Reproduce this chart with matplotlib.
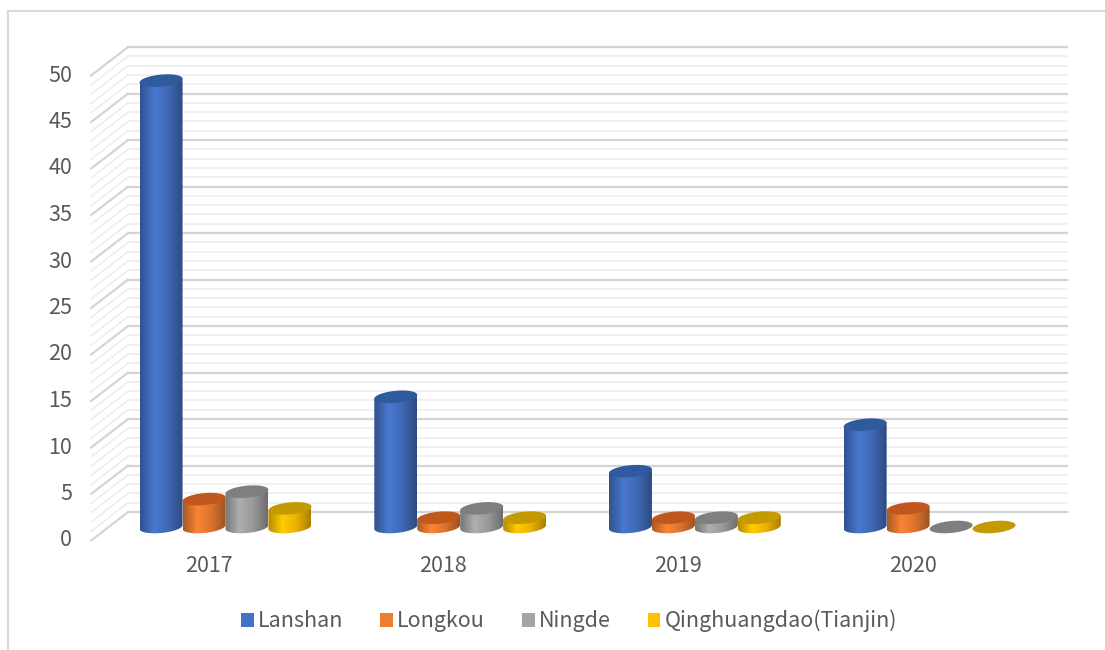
import numpy as np
import matplotlib
matplotlib.use('Agg')
import matplotlib.pyplot as plt
from matplotlib.patches import Polygon, Patch
from matplotlib.lines import Line2D
from matplotlib.colors import LinearSegmentedColormap, to_rgb

# data
years = ['2017', '2018', '2019', '2020']
series = ['Lanshan', 'Longkou', 'Ningde', 'Qinghuangdao(Tianjin)']
lanshan = [48, 14, 6, 11]
longkou = [3, 1, 1, 2]
ningde = [3.8, 2, 1, 0]
qinghuangdao = [2, 1, 1, 0]
values = [lanshan, longkou, ningde, qinghuangdao]
colors = ['#4472C4', '#ED7D31', '#A5A5A5', '#FFC000']
top_colors = ['#2F5A9E', '#C0581E', '#7F7F7F', '#C39A00']
y_ticks = list(range(0, 51, 5))

W, H = 1105, 650
PX_X, X0 = 234.7, 225.5    # px per category, px of first group
PX_Y, Y0 = 9.3, 527        # px per unit, px of zero line (bar plane)
TXT = '#595959'
plt.rcParams['font.family'] = ['Noto Sans CJK SC', 'DejaVu Sans']
plt.rcParams['font.weight'] = 'light'

fig = plt.figure(figsize=(W / 100, H / 100), dpi=100)
ax = fig.add_axes([0, 0, 1, 1])
ax.axis('off')

# depth offsets (data units) of back wall and front edge vs bar plane
dxb, dyb = 20 / PX_X, 15 / PX_Y
dxf, dyf = -17 / PX_X, -13.5 / PX_Y
wx0, wx1 = -0.5, 3.5

# back wall + left wall grid
for v in range(0, 51):
    major = v % 5 == 0
    c = '#D4D4D4' if major else '#ECECEC'
    lw = 1.6 if major else 1.1
    ax.plot([wx0 + dxb, wx1 + dxb], [v + dyb, v + dyb], color=c, lw=lw, zorder=1)
    ax.plot([wx0 + dxf, wx0 + dxb], [v + dyf, v + dyb], color=c, lw=lw, zorder=1)

for v in y_ticks:
    ax.text(wx0 + dxf - 19 / PX_X, v + dyf, str(v), ha='right', va='center',
            fontsize=15.5, color=TXT)

for i, y in enumerate(years):
    ax.text(i + dxf, -4.2, y, ha='center', va='center', fontsize=15.5, color=TXT)

# cylinders
bw = 0.183
a = bw / 2
b = 6 / PX_Y
shear = 0.09 * PX_X / PX_Y
t = np.linspace(0, 2 * np.pi, 80)
tb = np.linspace(np.pi, 2 * np.pi, 40)
offsets = (np.arange(4) - 1.5) * bw

for s in range(4):
    base = np.array(to_rgb(colors[s]))
    cmap = LinearSegmentedColormap.from_list(
        'c%d' % s, [base * 0.72, np.clip(base * 1.06, 0, 1), base * 0.92, base * 0.66])
    for i in range(4):
        v = values[s][i]
        cx = i + offsets[s]
        if v > 0:
            xs = cx + a * np.cos(tb)
            ys_bot = b * np.sin(tb) + shear * (xs - cx)
            xs_top = cx + a * np.cos(tb[::-1])
            ys_top = v + shear * (xs_top - cx)
            body = np.column_stack([np.r_[xs, xs_top], np.r_[ys_bot, ys_top]])
            poly = Polygon(body, closed=True, facecolor='none', edgecolor='none')
            ax.add_patch(poly)
            grad = np.linspace(0, 1, 64).reshape(1, -1)
            im = ax.imshow(grad, cmap=cmap, aspect='auto', zorder=3 + s,
                           extent=[cx - a, cx + a, -b - 1, v + 1])
            im.set_clip_path(poly)
        ex = cx + a * np.cos(t)
        ey = v + b * np.sin(t) + shear * (ex - cx)
        ax.add_patch(Polygon(np.column_stack([ex, ey]), closed=True,
                             facecolor=top_colors[s], edgecolor='none', zorder=3 + s))

ax.set_xlim(-X0 / PX_X, (W - X0) / PX_X)
ax.set_ylim((Y0 - H) / PX_Y, Y0 / PX_Y)

# chart border
fig.add_artist(Line2D([8 / W, 8 / W], [0, 1 - 11 / H], color='#D9D9D9', lw=1.5))
fig.add_artist(Line2D([8 / W, 1], [1 - 11 / H, 1 - 11 / H], color='#D9D9D9', lw=1.5))

handles = [Patch(facecolor=c, edgecolor='none') for c in colors]
leg = fig.legend(handles, series, loc='center', bbox_to_anchor=(0.515, 1 - 621 / H),
                 ncol=4, frameon=False, fontsize=15.5, handlelength=0.6,
                 handleheight=0.6, handletextpad=0.2, columnspacing=1.7)
for txt in leg.get_texts():
    txt.set_color(TXT)

plt.savefig('out.png', dpi=100)
